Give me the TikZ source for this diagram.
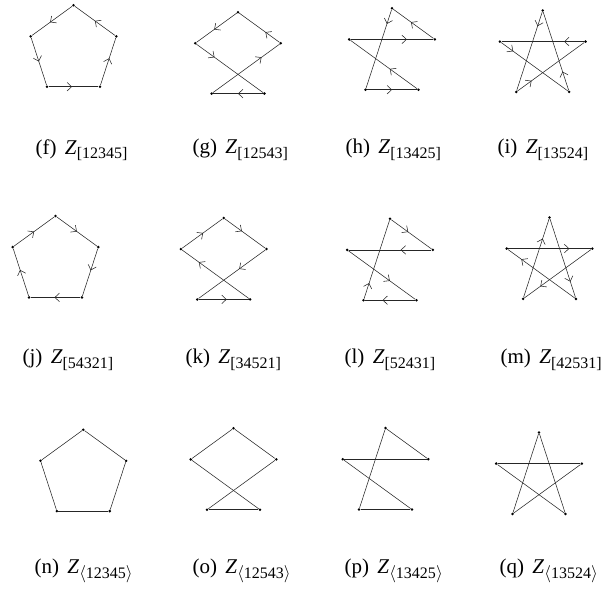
\documentclass[tikz,border=0pt]{standalone}
\usepackage{fontspec}
\setmainfont{Liberation Serif}
\usetikzlibrary{decorations.markings,arrows.meta}

\newcommand{\capsub}[1]{\raisebox{-4.5pt}{\fontsize{16}{16}\selectfont #1}}

\tikzset{
  vertex/.style={circle,fill,inner sep=0pt,minimum size=2.8pt},
  edge/.style={line width=0.55pt,black!85},
  flow/.style={edge,postaction={decorate},
    decoration={markings,mark=at position #1 with {\arrow{Straight Barb[length=4.5pt,width=8.5pt,line width=0.55pt]}}}},
  caption/.style={anchor=west,font=\fontsize{21}{24}\selectfont},
}

\begin{document}
\begin{tikzpicture}[x=1pt,y=1pt]
  \useasboundingbox (0,0) rectangle (609,-596);
  % --- directed cycles: name / centre x / centre y (down) / edges from/to/mark position ---
  \foreach \fig/\cx/\cy/\cyc in {
      f/73.5/50.3/{1/2/.55,2/3/.5,3/4/.47,4/5/.57,5/1/.5},
      g/238/57.2/{1/2/.56,2/4/.27,4/3/.5,3/5/.73,5/1/.35},
      h/392/53.3/{1/3/.18,3/4/.5,4/2/.41,2/5/.68,5/1/.56},
      i/542.7/55.5/{1/3/.18,3/5/.21,5/2/.24,2/4/.18,4/1/.24},
      j/55.5/261/{1/5/.5,5/4/.46,4/3/.52,3/2/.55,2/1/.5},
      k/223.7/263/{1/5/.42,5/3/.39,3/4/.56,4/2/.75,2/1/.52},
      l/390/263.8/{1/5/.42,5/2/.37,2/4/.62,4/3/.65,3/1/.2},
      m/549.5/262.5/{1/4/.8,4/2/.8,2/5/.74,5/3/.76,3/1/.75}}
  {
    \begin{scope}[shift={(\cx,-\cy)}]
      \foreach \k/\ang in {1/90,2/162,3/234,4/306,5/18}
        \node[vertex] (\fig\k) at (\ang:45) {};
      \foreach \a/\b/\pos in \cyc
        \draw[flow=\pos] (\fig\a) -- (\fig\b);
    \end{scope}
  }
  % --- undirected cycles ---
  \foreach \fig/\cx/\cy/\cyc in {
      n/83.3/474.7/{1/2,2/3,3/4,4/5,5/1},
      o/233.5/473.3/{1/2,2/4,4/3,3/5,5/1},
      p/385.5/473.1/{1/3,3/4,4/2,2/5,5/1},
      q/539/477.5/{1/3,3/5,5/2,2/4,4/1}}
  {
    \begin{scope}[shift={(\cx,-\cy)}]
      \foreach \k/\ang in {1/90,2/162,3/234,4/306,5/18}
        \node[vertex] (\fig\k) at (\ang:45) {};
      \foreach \a/\b in \cyc
        \draw[edge] (\fig\a) -- (\fig\b);
    \end{scope}
  }
  % captions
  \foreach \fig/\lx/\ly/\sub in {
      f/32/150/{[12345]}, g/189/150/{[12543]}, h/342/150/{[13425]}, i/494/150/{[13524]},
      j/19/360/{[54321]}, k/182/360/{[34521]}, l/341/360/{[52431]}, m/497/360/{[42531]},
      n/31/571/{$\langle$12345$\rangle$}, o/189/571/{$\langle$12543$\rangle$},
      p/341/571/{$\langle$13425$\rangle$}, q/496/571/{$\langle$13524$\rangle$}}
    \node[caption] (cap\fig) at (\lx,-\ly) {(\fig)\hspace{0.4em}\textit{Z}\capsub{\sub}};
\end{tikzpicture}
\end{document}
